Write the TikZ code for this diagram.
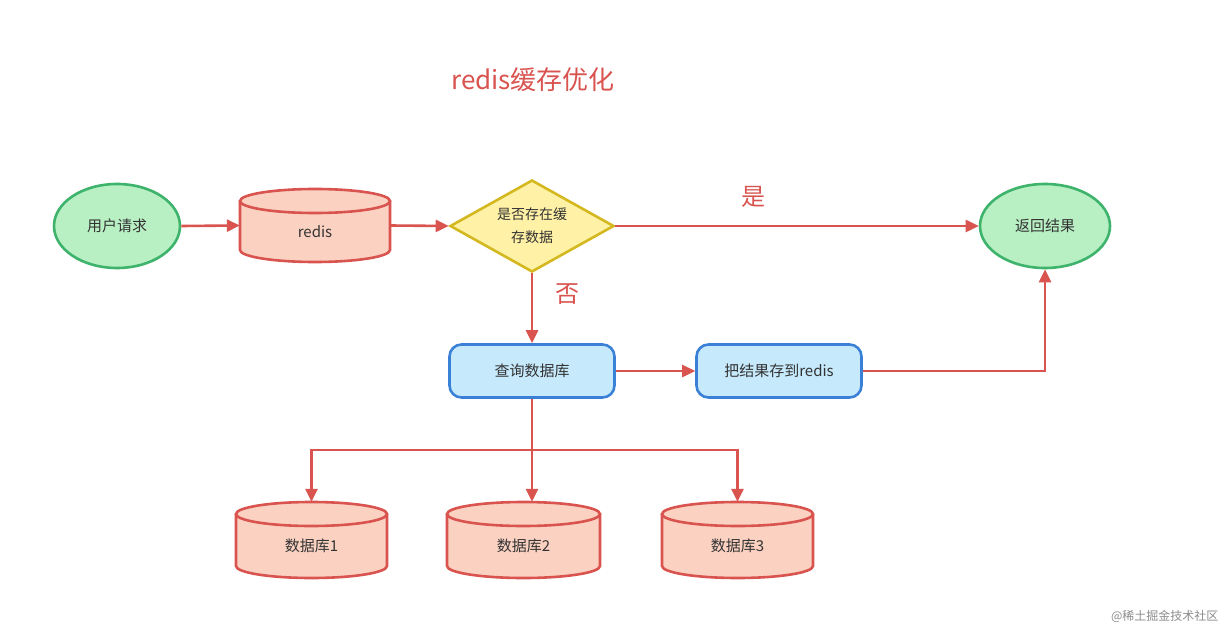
\documentclass[tikz,border=0pt]{standalone}
\usepackage{fontspec}
\setmainfont{Noto Sans CJK SC}
\usetikzlibrary{arrows.meta,shapes.geometric}
\definecolor{rd}{HTML}{D9534F}
\definecolor{gfill}{HTML}{B8F0C4}
\definecolor{gline}{HTML}{3DB36B}
\definecolor{cfill}{HTML}{FBD2C2}
\definecolor{yfill}{HTML}{FFF2A6}
\definecolor{yline}{HTML}{D4B820}
\definecolor{bfill}{HTML}{C6E9FC}
\definecolor{bline}{HTML}{3A80D6}
\newcommand{\mycyl}[6]{% name, x1, x2, ytop, ybot, text
  \fill[cfill] (#2,#4) -- (#2,#5) arc[start angle=180,end angle=0,x radius={(#3-#2)/2},y radius=12] -- (#3,#4) arc[start angle=0,end angle=-180,x radius={(#3-#2)/2},y radius=12];
  \draw[rd,line width=2.6pt] (#2,#4) -- (#2,#5) arc[start angle=180,end angle=0,x radius={(#3-#2)/2},y radius=12] -- (#3,#4);
  \draw[rd,line width=2.6pt] ({(#2+#3)/2},#4) ellipse[x radius={(#3-#2)/2},y radius=12];
  \node[inner sep=0,minimum width={(#3-#2)*1pt},minimum height={(#5-#4+24)*1pt}] (#1) at ({(#2+#3)/2},{(#4+#5)/2}) {};
  \node[font=\fontsize{15}{18}\selectfont,text=black!80] at ({(#2+#3)/2},{(#4+#5)/2+6}) {#6};
}
\begin{document}
\begin{tikzpicture}[x=1pt,y=-1pt,
  arr/.style={rd,line width=2.6pt,-{Triangle[length=13pt,width=12pt]}},
  ln/.style={rd,line width=2.6pt},
  txt/.style={font=\fontsize{15}{18}\selectfont,text=black!80},
  ell/.style={ellipse,draw=gline,fill=gfill,line width=2.6pt,inner sep=0,txt},
  box/.style={rectangle,rounded corners=12pt,draw=bline,fill=bfill,line width=2.6pt,inner sep=0,minimum width=165pt,minimum height=53pt,txt}]
\useasboundingbox (0,0) rectangle (1230,636);
\fill[white] (0,0) rectangle (1230,636);
\node[text=rd,font=\fontsize{26}{30}\selectfont] (title) at (533,80) {redis缓存优化};
\node[ell,minimum width=126pt,minimum height=84pt] (user) at (117,226) {用户请求};
\mycyl{redis}{240}{390}{201}{250}{redis}
\node[diamond,draw=yline,fill=yfill,line width=2.6pt,minimum width=164pt,minimum height=92pt,inner sep=0,aspect=1.78,txt,font=\fontsize{14}{23}\selectfont,align=center] (q) at (532,226) {是否存在缓\\存数据};
\node[ell,minimum width=130pt,minimum height=84pt] (ret) at (1045,226) {返回结果};
\node[box] (db) at (532,371) {查询数据库};
\node[box] (save) at (779,371) {把结果存到redis};
\mycyl{d1}{236}{387}{514}{566}{数据库1}
\mycyl{d2}{447}{600}{514}{566}{数据库2}
\mycyl{d3}{662}{813}{514}{566}{数据库3}
\node[text=rd,font=\fontsize{24}{28}\selectfont] (yes) at (753,197) {是};
\node[text=rd,font=\fontsize{24}{28}\selectfont] (no) at (567,294) {否};
\node[text=black!45,font=\fontsize{12}{14}\selectfont,anchor=east] (wm) at (1222,616) {@稀土掘金技术社区};
\draw[arr] (user.east) -- (redis.west);
\draw[arr] (redis.east) -- (q.west);
\draw[arr] (q.east) -- (ret.west);
\draw[arr] (q.south) -- (db.north);
\draw[arr] (db.east) -- (save.west);
\draw[arr] (save.east) -| (ret.south);
\coordinate (j) at (532,450);
\draw[ln] (db.south) -- (j);
\draw[arr] (j) -| (d1.north);
\draw[arr] (j) -- (j |- d2.north);
\draw[arr] (j) -| (d3.north);
\end{tikzpicture}
\end{document}
